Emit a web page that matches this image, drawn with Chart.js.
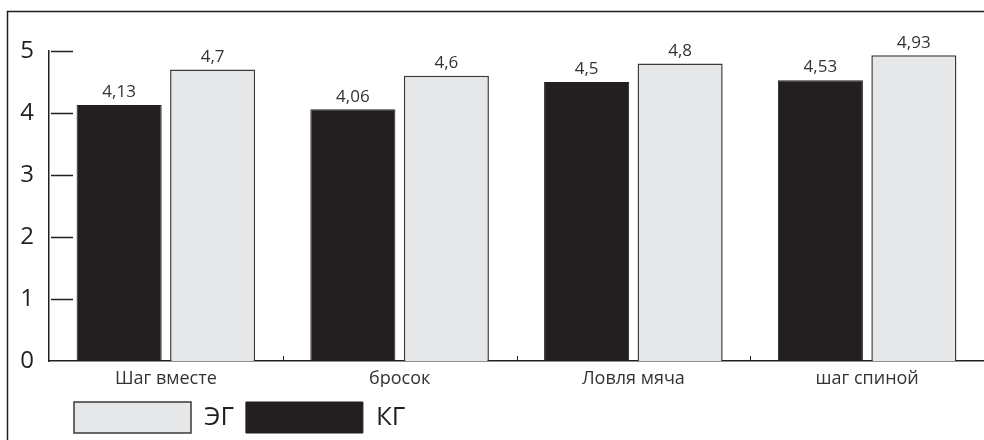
<!DOCTYPE html>
<html lang="ru">
<head>
<meta charset="utf-8">
<title>ЭГ и КГ</title>
<script src="https://cdn.jsdelivr.net/npm/chart.js@4.4.1/dist/chart.umd.min.js"></script>
<style>
  html, body { margin: 0; padding: 0; background: #fff; }
  #grafico { display: block; }
</style>
</head>
<body>
<canvas id="grafico" width="984" height="440"></canvas>
<script>
// упражнения по оси X
const exercicios = ['Шаг вместе', 'бросок', 'Ловля мяча', 'шаг спиной'];
// контрольная группа
const valoresKG = [4.13, 4.06, 4.5, 4.53];
// экспериментальная группа
const valoresEG = [4.7, 4.6, 4.8, 4.93];
// деления оси Y
const ticksY = [0, 1, 2, 3, 4, 5];

const fonte = "'Open Sans', 'Noto Sans', sans-serif";
const preto = '#231f20';
const cinza = '#e6e7e8';

const fmt = v => String(v).replace('.', ',');

// рамка, засечки на осях и подписи значений
const extras = {
  id: 'extras',
  afterLayout(chart) {
    chart.legend.left = 62;
    chart.legend.top += 3;
  },
  beforeDraw(chart) {
    const ctx = chart.ctx;
    ctx.save();
    ctx.strokeStyle = preto;
    ctx.lineWidth = 1.5;
    ctx.beginPath();
    ctx.moveTo(chart.width, 11.5);
    ctx.lineTo(7.5, 11.5);
    ctx.lineTo(7.5, chart.height);
    ctx.stroke();
    ctx.restore();
  },
  afterDatasetsDraw(chart) {
    const ctx = chart.ctx;
    const x = chart.scales.x;
    const y = chart.scales.y;
    ctx.save();
    ctx.strokeStyle = preto;

    // засечки оси Y внутри области графика
    ctx.lineWidth = 1.5;
    ticksY.forEach(v => {
      if (v === 0) return;
      const py = Math.round(y.getPixelForValue(v)) + 0.5;
      ctx.beginPath();
      ctx.moveTo(x.left + 2, py);
      ctx.lineTo(x.left + 24, py);
      ctx.stroke();
    });

    // короткие засечки между категориями
    ctx.lineWidth = 1;
    const w = (x.right - x.left) / exercicios.length;
    exercicios.forEach((_, i) => {
      const px = Math.round(x.getPixelForValue(i) + w / 2) + 0.5;
      ctx.beginPath();
      ctx.moveTo(px, y.bottom);
      ctx.lineTo(px, y.bottom - 5);
      ctx.stroke();
    });

    // значения над столбцами
    ctx.fillStyle = '#333';
    ctx.font = '17px ' + fonte;
    ctx.textAlign = 'center';
    ctx.textBaseline = 'bottom';
    chart.data.datasets.forEach((ds, d) => {
      chart.getDatasetMeta(d).data.forEach((bar, i) => {
        ctx.fillText(fmt(ds.data[i]), bar.x, bar.y - 4);
      });
    });
    ctx.restore();
  }
};

new Chart(document.getElementById('grafico'), {
  type: 'bar',
  data: {
    labels: exercicios,
    datasets: [{
      label: 'КГ',
      data: valoresKG,
      backgroundColor: preto,
      borderColor: preto,
      borderWidth: 1
    }, {
      label: 'ЭГ',
      data: valoresEG,
      backgroundColor: cinza,
      borderColor: '#3a3a3a',
      borderWidth: 1.5
    }]
  },
  options: {
    responsive: false,
    animation: false,
    devicePixelRatio: 1,
    categoryPercentage: 0.8,
    barPercentage: 0.91,
    layout: { padding: { top: 51, left: 0, right: 0, bottom: 0 } },
    plugins: {
      tooltip: { enabled: false },
      legend: {
        position: 'bottom',
        align: 'start',
        reverse: true,
        labels: {
          boxWidth: 117,
          boxHeight: 31,
          padding: 12,
          color: preto,
          font: { family: fonte, size: 26 }
        }
      }
    },
    scales: {
      x: {
        grid: { display: false, drawTicks: false },
        border: { display: true, color: preto, width: 1.5 },
        ticks: { color: '#333', padding: 7, font: { family: fonte, size: 18 } },
        afterFit(scale) { scale.height = 26; }
      },
      y: {
        min: 0,
        max: 5,
        grid: { display: false, drawTicks: false },
        border: { display: true, color: preto, width: 1.5 },
        ticks: { stepSize: 1, color: preto, padding: 15, font: { family: fonte, size: 24 } },
        afterFit(scale) { scale.width = 49; }
      }
    }
  },
  plugins: [extras]
});
</script>
</body>
</html>
